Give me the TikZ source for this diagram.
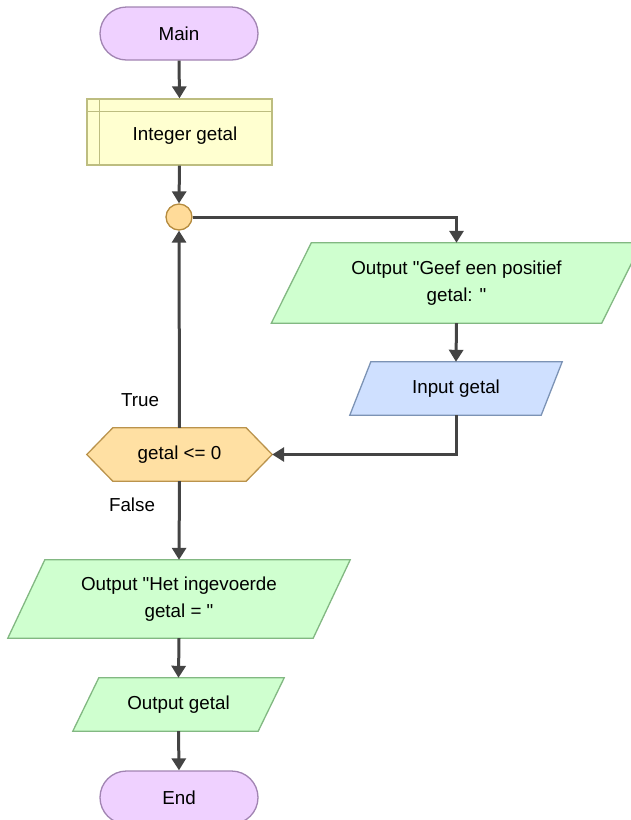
\documentclass[tikz,border=0pt]{standalone}
\usepackage{fontspec}
\setmainfont{Liberation Sans}[Ligatures=TeXOff]
\usetikzlibrary{arrows.meta,backgrounds,calc}
\definecolor{termfill}{HTML}{EFD1FF}
\definecolor{termline}{HTML}{A184B2}
\definecolor{declfill}{HTML}{FFFFD0}
\definecolor{declline}{HTML}{BDBD80}
\definecolor{joinfill}{HTML}{FFDB99}
\definecolor{joinline}{HTML}{B58B3E}
\definecolor{outfill}{HTML}{CFFFCF}
\definecolor{outline}{HTML}{82B882}
\definecolor{infill}{HTML}{CFE0FF}
\definecolor{inline}{HTML}{7C93B5}
\definecolor{hexfill}{HTML}{FFE0A3}
\definecolor{hexline}{HTML}{BA934C}
\definecolor{arrowcol}{HTML}{444444}
\newcommand\drawpara[3]{%
  \draw[#3] (#1.south west) -- ([xshift=#2]#1.north west) -- (#1.north east)
    -- ([xshift=-#2]#1.south east) -- cycle;}
\begin{document}
\begin{tikzpicture}[x=1pt,y=-1pt,
  font=\fontsize{18.8}{27}\selectfont,
  every node/.style={inner sep=0pt, align=center},
  termsty/.style={draw=termline, fill=termfill, line width=1.3pt, rounded corners=26.5pt,
    minimum width=158pt, minimum height=53pt},
  declsty/.style={draw=declline, fill=declfill, line width=1.3pt,
    minimum width=185pt, minimum height=66pt},
  joinsty/.style={circle, draw=joinline, fill=joinfill, line width=1.3pt, minimum size=26pt},
  outsty/.style={draw=outline, fill=outfill, line width=1.3pt},
  insty/.style={draw=inline, fill=infill, line width=1.3pt},
  hexsty/.style={draw=hexline, fill=hexfill, line width=1.3pt},
  flow/.style={draw=arrowcol, line width=3pt, -{Triangle[length=12pt,width=14pt]}},
  lbl/.style={font=\fontsize{18.8}{22}\selectfont}
]
\useasboundingbox (0,0) rectangle (630,820);
\clip (0,0) rectangle (630,820);

\node[termsty] (main) at (179,33.5) {Main};
\node[declsty] (decl) at (179.5,132) {};
\draw[declline, line width=1.3pt]
  ($(decl.north west)+(13,0)$) -- ($(decl.south west)+(13,0)$)
  ($(decl.north west)+(0,13)$) -- ($(decl.north east)+(0,13)$);
\node (decltext) at ($(decl.center)+(5.5,4)$) {Integer getal};
\node[joinsty] (j) at (179,217) {};
\node[minimum width=370pt, minimum height=80pt] (out1) at (456.5,283) {Output "Geef een positief\\getal: "};
\node[minimum width=212pt, minimum height=53pt] (in1) at (456,388.5) {Input getal};
\node[minimum width=185pt, minimum height=53pt] (hex) at (179.5,454.5) {getal <= 0};
\node[minimum width=342pt, minimum height=78pt] (out2) at (179,599) {Output "Het ingevoerde\\getal = "};
\node[minimum width=211pt, minimum height=53pt] (out3) at (178.5,704.5) {Output getal};
\node[termsty] (endn) at (179,797.5) {End};

\node[lbl] (ltrue) at (140,400) {True};
\node[lbl] (lfalse) at (132,505) {False};

\begin{pgfonlayer}{background}
  \drawpara{out1}{40pt}{outsty}
  \drawpara{in1}{21pt}{insty}
  \drawpara{out2}{37pt}{outsty}
  \drawpara{out3}{26pt}{outsty}
  \draw[hexsty] (hex.west) -- ([xshift=26pt]hex.north west) -- ([xshift=-26pt]hex.north east)
    -- (hex.east) -- ([xshift=-26pt]hex.south east) -- ([xshift=26pt]hex.south west) -- cycle;
\end{pgfonlayer}

\draw[flow] (main.south) -- (decl.north);
\draw[flow] (decl.south) -- (j.north);
\draw[flow] (j.east) -| (out1.north);
\draw[flow] (out1.south) -- (in1.north);
\draw[flow] (in1.south) |- (hex.east);
\draw[flow] (hex.north) -- (j.south);
\draw[flow] (hex.south) -- (out2.north);
\draw[flow] (out2.south) -- (out3.north);
\draw[flow] (out3.south) -- (endn.north);
\end{tikzpicture}
\end{document}
